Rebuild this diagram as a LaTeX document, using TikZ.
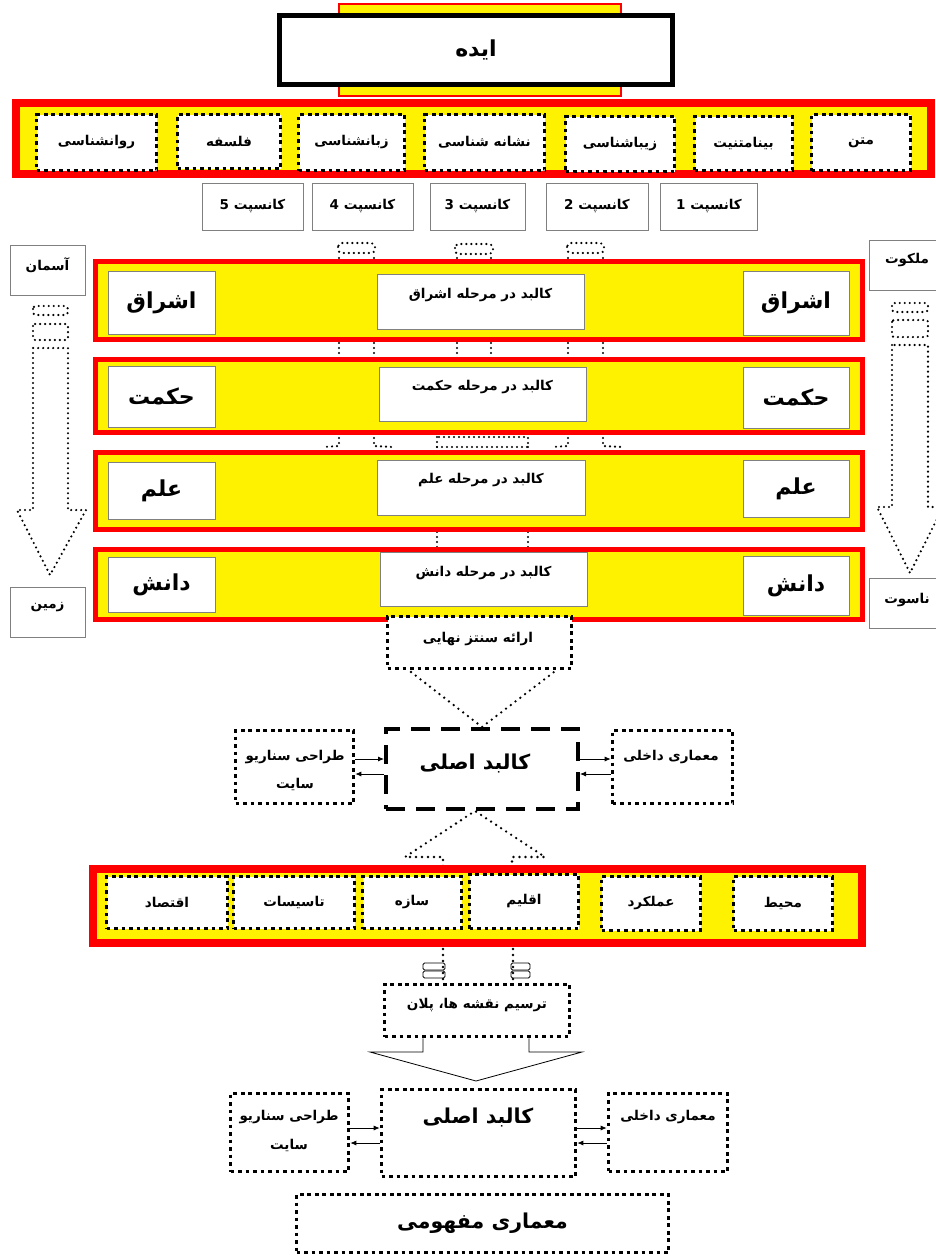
\documentclass[tikz,border=0pt]{standalone}
\usepackage{fontspec}
\newfontfamily\arabicfont[Script=Arabic]{DejaVu Sans}
\TeXXeTstate=1
\usetikzlibrary{arrows.meta}
\newcommand{\fa}[1]{{\arabicfont\bfseries\beginR #1\endR}}
\newcommand{\fsS}{\fontsize{13.5}{16}\selectfont}
\newcommand{\fsL}{\fontsize{20.5}{25}\selectfont}
\newcommand{\fsXL}{\fontsize{22}{26}\selectfont}
\tikzset{
  sqbox/.style={draw=black, line width=3.6pt, dash pattern=on 3.8pt off 3.7pt, fill=white, inner sep=0pt},
  dashbox/.style={draw=black, line width=4pt, dash pattern=on 19pt off 11pt, fill=white, inner sep=0pt},
  gbox/.style={draw=black!50, line width=0.7pt, fill=white, inner sep=0pt},
  bandbox/.style={draw=red, line width=8pt, fill=yellow},
  rowbox/.style={draw=red, line width=5pt, fill=yellow},
  fdots/.style={line width=2.4pt, dash pattern=on 0pt off 5pt, line cap=round},
  ftdots/.style={line width=2.6pt, dash pattern=on 0pt off 6pt, line cap=round},
  arr/.style={-{Latex[length=6pt,width=5pt]}, line width=0.8pt},
  lbl/.style={font=\fsS, inner sep=0pt},
}
\begin{document}
\begin{tikzpicture}[x=1pt,y=-1pt]
\useasboundingbox (0,0) rectangle (936,1256);
\fill[white] (0,0) rectangle (936,1256);

% ---------- top: idea ----------
\draw[red, line width=2pt, fill=yellow] (339,4) rectangle (621,96);
\node[draw=black, line width=4.5pt, fill=white, minimum width=393pt, minimum height=69pt, inner sep=0pt, font=\fontsize{22}{26}\selectfont] (idea) at (476,50) {\fa{ایده}};

% ---------- band 1 ----------
\draw[bandbox] (16,103) rectangle (931,174);
\node[sqbox, lbl, minimum width=99pt, minimum height=56pt] (b1) at (861,142.5) {\fa{متن}};
\node[sqbox, lbl, minimum width=98pt, minimum height=54pt] (b2) at (743.5,143.5) {\fa{بینامتنیت}};
\node[sqbox, lbl, minimum width=109pt, minimum height=55pt] (b3) at (620,144) {\fa{زیباشناسی}};
\node[sqbox, lbl, minimum width=120pt, minimum height=56pt] (b4) at (484.5,142.5) {\fa{نشانه شناسی}};
\node[sqbox, lbl, minimum width=106pt, minimum height=56pt] (b5) at (351.5,142.5) {\fa{زبانشناسی}};
\node[sqbox, lbl, minimum width=103pt, minimum height=54pt] (b6) at (229,141.5) {\fa{فلسفه}};
\node[sqbox, lbl, minimum width=120pt, minimum height=56pt] (b7) at (96.5,142.5) {\fa{روانشناسی}};

% ---------- concepts ----------
\node[gbox, lbl, minimum width=101pt, minimum height=47pt] (k5) at (252.5,206.5) {\fa{کانسپت 5}};
\node[gbox, lbl, minimum width=101pt, minimum height=47pt] (k4) at (362.5,206.5) {\fa{کانسپت 4}};
\node[gbox, lbl, minimum width=95pt, minimum height=47pt] (k3) at (477.5,206.5) {\fa{کانسپت 3}};
\node[gbox, lbl, minimum width=102pt, minimum height=47pt] (k2) at (597,206.5) {\fa{کانسپت 2}};
\node[gbox, lbl, minimum width=97pt, minimum height=47pt] (k1) at (709,206.5) {\fa{کانسپت 1}};

% ---------- side boxes ----------
\node[gbox, minimum width=75pt, minimum height=50pt] (sky) at (47.5,270) {};
\node[lbl] at ([yshift=5pt]sky.center) {\fa{آسمان}};
\node[gbox, minimum width=75pt, minimum height=50pt] (earth) at (47.5,612) {};
\node[lbl] at ([yshift=5pt]earth.center) {\fa{زمین}};
\node[gbox, minimum width=72pt, minimum height=50pt] (malakut) at (905,265) {};
\node[lbl] at (907,260) {\fa{ملکوت}};
\node[gbox, minimum width=72pt, minimum height=50pt] (nasut) at (905,603) {};
\node[lbl] at (907,600) {\fa{ناسوت}};

% ---------- side dotted arrows ----------
\draw[fdots, rounded corners=3pt] (33,306) rectangle (68,315);
\draw[fdots, rounded corners=2pt] (33,324) rectangle (68,340);
\draw[fdots] (33,348) -- (33,510) -- (17,510) -- (50,575) -- (86,510) -- (68,510) -- (68,348) -- cycle;
\draw[fdots, rounded corners=3pt] (892,303) rectangle (928,312);
\draw[fdots, rounded corners=2pt] (892,320) rectangle (928,337);
\draw[fdots] (892,345) -- (892,507) -- (877,507) -- (910,573) -- (943,507) -- (928,507) -- (928,345) -- cycle;

% ---------- hidden dotted arrows behind rows ----------
\draw[fdots, rounded corners=4pt] (338,243) rectangle (375,253);
\draw[fdots, rounded corners=4pt] (455,244) rectangle (493,254);
\draw[fdots, rounded corners=4pt] (567,243) rectangle (604,253);
\draw[fdots] (339,258) -- (339,446) -- (323,447);
\draw[fdots] (374,258) -- (374,446) -- (392,447);
\draw[fdots] (568,258) -- (568,446) -- (552,447);
\draw[fdots] (603,258) -- (603,446) -- (622,447);
\draw[fdots] (457,258) -- (457,437);
\draw[fdots] (491,258) -- (491,437);
\draw[fdots] (437,437) rectangle (528,447);
\draw[fdots] (437,447) -- (437,560);
\draw[fdots] (528,447) -- (528,560);

% ---------- rows ----------
\draw[rowbox] (95.5,261.5) rectangle (862.5,339.5);
\draw[rowbox] (95.5,359.5) rectangle (862.5,432.5);
\draw[rowbox] (95.5,452.5) rectangle (862.5,529.5);
\draw[rowbox] (95.5,549.5) rectangle (862.5,619.5);

\node[gbox, font=\fsXL, minimum width=107pt, minimum height=63pt] (l1) at (161.5,302.5) {\fa{اشراق}};
\node[gbox, font=\fsXL, minimum width=107pt, minimum height=61pt] (l2) at (161.5,396.5) {\fa{حکمت}};
\node[gbox, font=\fsXL, minimum width=107pt, minimum height=57pt] (l3) at (161.5,490.5) {\fa{علم}};
\node[gbox, font=\fsXL, minimum width=107pt, minimum height=55pt] (l4) at (161.5,584.5) {\fa{دانش}};
\node[gbox, font=\fsXL, minimum width=106pt, minimum height=64pt] (r1) at (796,303) {\fa{اشراق}};
\node[gbox, font=\fsXL, minimum width=106pt, minimum height=61pt] (r2) at (796,397.5) {\fa{حکمت}};
\node[gbox, font=\fsXL, minimum width=106pt, minimum height=57pt] (r3) at (796,488.5) {\fa{علم}};
\node[gbox, font=\fsXL, minimum width=106pt, minimum height=59pt] (r4) at (796,585.5) {\fa{دانش}};

\node[gbox, minimum width=207pt, minimum height=55pt] (c1) at (480.5,301.5) {};
\node[lbl] at (480.5,295) {\fa{کالبد در مرحله اشراق}};
\node[gbox, minimum width=207pt, minimum height=54pt] (c2) at (482.5,394) {};
\node[lbl] at (482.5,387) {\fa{کالبد در مرحله حکمت}};
\node[gbox, minimum width=208pt, minimum height=55pt] (c3) at (481,487.5) {};
\node[lbl] at (481,480) {\fa{کالبد در مرحله علم}};
\node[gbox, minimum width=207pt, minimum height=54pt] (c4) at (483.5,579) {};
\node[lbl] at (483.5,573) {\fa{کالبد در مرحله دانش}};

% ---------- synthesis ----------
\node[sqbox, minimum width=184pt, minimum height=52pt] (arae) at (479.5,642.5) {};
\node[lbl] at (478,639) {\fa{ارائه سنتز نهایی}};
\coordinate (f1a) at (411,672);
\coordinate (f1b) at (554,672);
\coordinate (f1t) at (482,727);
\draw[ftdots] (f1a) -- (f1t) -- (f1b);

% ---------- main body 1 ----------
\node[dashbox, minimum width=192pt, minimum height=80pt] (kal1) at (482,769) {};
\node[font=\fsL, inner sep=0pt] at (475,763) {\fa{کالبد اصلی}};
\node[sqbox, minimum width=118pt, minimum height=73pt] (tar1) at (294.5,767) {};
\node[lbl] at (295,757) {\fa{طراحی سناریو}};
\node[lbl] at (295,784) {\fa{سایت}};
\node[sqbox, minimum width=120pt, minimum height=73pt] (dak1) at (672.5,767) {};
\node[lbl] at (671,757) {\fa{معماری داخلی}};
\coordinate (ya) at (0,759);
\coordinate (yb) at (0,774);
\draw[arr] (tar1.east |- ya) -- (kal1.west |- ya);
\draw[arr] (kal1.west |- yb) -- (tar1.east |- yb);
\draw[arr] (kal1.east |- ya) -- (dak1.west |- ya);
\draw[arr] (dak1.west |- yb) -- (kal1.east |- yb);

% funnel under main body 1
\coordinate (f2t) at (475,811);
\draw[ftdots] (443,866) -- (443,857) -- (405,857) -- (f2t) -- (545,857) -- (512,857) -- (512,866);

% ---------- band 2 ----------
\draw[bandbox] (93,869) rectangle (862,943);
\node[sqbox, lbl, minimum width=121pt, minimum height=52pt] (eco) at (167,902.5) {\fa{اقتصاد}};
\node[sqbox, lbl, minimum width=121pt, minimum height=52pt] (tas) at (294,902.5) {\fa{تاسیسات}};
\node[sqbox, lbl, minimum width=99pt, minimum height=52pt] (saz) at (412,902.5) {\fa{سازه}};
\node[sqbox, lbl, minimum width=109pt, minimum height=54pt] (eql) at (524,901.5) {\fa{اقلیم}};
\node[sqbox, lbl, minimum width=99pt, minimum height=54pt] (aml) at (651,903.5) {\fa{عملکرد}};
\node[sqbox, lbl, minimum width=99pt, minimum height=54pt] (moh) at (783,903.5) {\fa{محیط}};

% ---------- drawing plans ----------
\node[sqbox, minimum width=185pt, minimum height=52pt] (tars) at (477,1010.5) {};
\node[lbl] at (477,1005) {\fa{ترسیم نقشه ها، پلان}};
\draw[ftdots] (443,949) -- (tars.north -| 443,0);
\draw[ftdots] (513,949) -- (tars.north -| 513,0);
\draw[line width=0.8pt, rounded corners=1.5pt] (423,963) rectangle (445,970);
\draw[line width=0.8pt, rounded corners=1.5pt] (423,971) rectangle (445,978);
\draw[line width=0.8pt, rounded corners=1.5pt] (511,963) rectangle (530,970);
\draw[line width=0.8pt, rounded corners=1.5pt] (511,971) rectangle (530,978);
\coordinate (f3t) at (476,1081);
\draw[line width=0.8pt] (tars.south -| 423,0) -- (423,1052) -- (370,1052) -- (f3t) -- (582,1052) -- (529,1052) -- (tars.south -| 529,0);

% ---------- main body 2 ----------
\node[sqbox, minimum width=194pt, minimum height=87pt] (kal2) at (478.5,1133) {};
\node[font=\fsL, inner sep=0pt] at (478,1117) {\fa{کالبد اصلی}};
\node[sqbox, minimum width=118pt, minimum height=78pt] (tar2) at (289.5,1132.5) {};
\node[lbl] at (289,1117) {\fa{طراحی سناریو}};
\node[lbl] at (289,1145) {\fa{سایت}};
\node[sqbox, minimum width=119pt, minimum height=78pt] (dak2) at (668,1132.5) {};
\node[lbl] at (668,1117) {\fa{معماری داخلی}};
\coordinate (yc) at (0,1128);
\coordinate (yd) at (0,1143);
\draw[arr] (tar2.east |- yc) -- (kal2.west |- yc);
\draw[arr] (kal2.west |- yd) -- (tar2.east |- yd);
\draw[arr] (kal2.east |- yc) -- (dak2.west |- yc);
\draw[arr] (dak2.west |- yd) -- (kal2.east |- yd);

% ---------- conceptual architecture ----------
\node[sqbox, font=\fsL, minimum width=372pt, minimum height=58pt] (mafh) at (482.5,1223.5) {\fa{معماری مفهومی}};
\end{tikzpicture}
\end{document}
